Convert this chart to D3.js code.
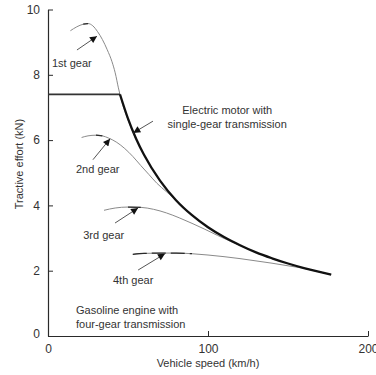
<!DOCTYPE html>
<html>
<head>
<meta charset="utf-8">
<script src="https://cdn.jsdelivr.net/npm/d3@7"></script>
<style>
  body { margin: 0; background: #fff; }
  svg { display: block; font-family: "Liberation Sans", Arial, sans-serif; }
</style>
</head>
<body>
<svg id="chart" width="376" height="375"></svg>
<script>
// values (speed in km/h, force in kN)
var motorFlatSpeed = [0, 45];
var motorFlatForce = [7.4, 7.4];
var motorSpeed = [45, 50, 55, 60, 70, 80, 90, 100, 110, 120, 130, 140, 150, 160, 177];
var motorForce = [7.4, 6.66, 6.05, 5.55, 4.76, 4.16, 3.7, 3.33, 3.03, 2.78, 2.56, 2.38, 2.22, 2.08, 1.88];

var gear1Speed = [14, 18, 22, 25, 28, 31, 34, 37, 40, 42, 44, 46, 50, 55];
var gear1Force = [9.35, 9.47, 9.55, 9.57, 9.5, 9.32, 9.08, 8.77, 8.4, 8.06, 7.6, 7.2, 6.62, 6.02];
var gear2Speed = [21, 25, 30, 34, 38, 43, 48, 53, 58, 63, 68, 74, 80, 88];
var gear2Force = [6.08, 6.13, 6.15, 6.13, 6.06, 5.93, 5.74, 5.5, 5.22, 4.95, 4.68, 4.42, 4.16, 3.78];
var gear3Speed = [35, 42, 50, 58, 66, 74, 82, 90, 98, 106, 114, 122, 130];
var gear3Force = [3.85, 3.92, 3.95, 3.94, 3.88, 3.77, 3.62, 3.45, 3.27, 3.08, 2.9, 2.73, 2.56];
var gear4Speed = [53, 60, 70, 80, 90, 100, 110, 120, 130, 140, 150, 160, 168, 177];
var gear4Force = [2.5, 2.53, 2.54, 2.54, 2.52, 2.48, 2.43, 2.37, 2.3, 2.23, 2.15, 2.07, 1.98, 1.88];

// darker stretches drawn over the gear curves near their peaks
var highlightFrom = [21, 28, 47, 53];
var highlightTo = [26, 37, 58, 90];

var xTicks = [0, 100, 200];
var yTicks = [0, 2, 4, 6, 8, 10];

var svg = d3.select("#chart");
var margin = {left: 48, right: 8, top: 9.5, bottom: 39};
var width = 376 - margin.left - margin.right;
var height = 375 - margin.top - margin.bottom;

var x = d3.scaleLinear().domain([0, 200]).range([margin.left, margin.left + width]);
var y = d3.scaleLinear().domain([0, 10]).range([margin.top + height, margin.top]);

var ink = "#2a2a2a";

// axes, ticks pointing inward
var xAxis = svg.append("g")
  .attr("transform", "translate(0," + y(0) + ")")
  .call(d3.axisBottom(x).tickValues(xTicks).tickSizeInner(-5).tickSizeOuter(0).tickPadding(8));
var yAxis = svg.append("g")
  .attr("transform", "translate(" + x(0) + ",0)")
  .call(d3.axisLeft(y).tickValues(yTicks).tickSizeInner(-5).tickSizeOuter(0).tickPadding(8));

[xAxis, yAxis].forEach(function(a){
  a.select(".domain").attr("stroke", ink).attr("stroke-width", 1.2);
  a.selectAll(".tick line").attr("stroke", ink).attr("stroke-width", 1);
  a.selectAll(".tick text").attr("fill", "#333").style("font-size", "12px");
});
// the 0 label on the y axis sits next to the corner
yAxis.selectAll(".tick").filter(function(d){ return d === 0; }).select("text").attr("dy", "0.1em");

// axis titles
svg.append("text")
  .attr("x", x(100)).attr("y", 367)
  .attr("text-anchor", "middle")
  .style("font-size", "11px").attr("fill", "#333")
  .text("Vehicle speed (km/h)");
svg.append("text")
  .attr("transform", "translate(23,164) rotate(-90)")
  .attr("text-anchor", "middle")
  .style("font-size", "11px").attr("fill", "#333")
  .text("Tractive effort (kN)");

function toPoints(sp, fo){
  return sp.map(function(d, i){ return [d, fo[i]]; });
}
var line = d3.line()
  .x(function(d){ return x(d[0]); })
  .y(function(d){ return y(d[1]); })
  .curve(d3.curveMonotoneX);

// gasoline engine gear curves
var gears = [
  toPoints(gear1Speed, gear1Force),
  toPoints(gear2Speed, gear2Force),
  toPoints(gear3Speed, gear3Force),
  toPoints(gear4Speed, gear4Force)
];
svg.selectAll("path.gear")
  .data(gears)
  .enter()
  .append("path")
  .attr("class", "gear")
  .attr("d", line)
  .attr("fill", "none")
  .attr("stroke", "#8a8a8a")
  .attr("stroke-width", 1);

// darker bits on the flat tops
svg.selectAll("path.peak")
  .data(gears)
  .enter()
  .append("path")
  .attr("class", "peak")
  .attr("d", function(d, i){
    return line(d.filter(function(p){ return p[0] >= highlightFrom[i] && p[0] <= highlightTo[i]; }));
  })
  .attr("fill", "none")
  .attr("stroke", ink)
  .attr("stroke-width", 1.3)
  .attr("stroke-dasharray", function(d, i){ return i === 3 ? "14,5" : null; });

// electric motor
svg.append("path")
  .attr("d", d3.line().x(function(d){ return x(d[0]); }).y(function(d){ return y(d[1]); })(toPoints(motorFlatSpeed, motorFlatForce)))
  .attr("fill", "none")
  .attr("stroke", "#333")
  .attr("stroke-width", 1.6);
svg.append("path")
  .attr("d", line(toPoints(motorSpeed, motorForce)))
  .attr("fill", "none")
  .attr("stroke", "#111")
  .attr("stroke-width", 2.3);

// arrowheads
svg.append("defs").append("marker")
  .attr("id", "head")
  .attr("viewBox", "0 0 10 10")
  .attr("refX", 10).attr("refY", 5)
  .attr("markerWidth", 9).attr("markerHeight", 7)
  .attr("markerUnits", "userSpaceOnUse")
  .attr("orient", "auto")
  .append("path")
  .attr("d", "M0,0L10,5L0,10Z")
  .attr("fill", "#111");

// labels: text anchor point and arrow, all in data units
var notes = [
  {lines: ["1st gear"], v: 2.5, f: 8.36, anchor: "start", a: [18.1, 8.76, 30.6, 9.18]},
  {lines: ["Electric motor with", "single-gear transmission"], v: 112, f: 6.92, anchor: "middle", a: [65.6, 6.58, 53.3, 6.22]},
  {lines: ["2nd gear"], v: 17.5, f: 5.1, anchor: "start", a: [28.1, 5.4, 38.8, 6.04]},
  {lines: ["3rd gear"], v: 22, f: 3.09, anchor: "start", a: [41.9, 3.46, 56.3, 3.92]},
  {lines: ["4th gear"], v: 40.6, f: 1.72, anchor: "start", a: [56.3, 2.02, 73.1, 2.52]},
  {lines: ["Gasoline engine with", "four-gear transmission"], v: 17.5, f: 0.8, anchor: "start", a: null}
];

var noteG = svg.selectAll("g.note")
  .data(notes)
  .enter()
  .append("g")
  .attr("class", "note");

noteG.append("text")
  .attr("x", function(d){ return x(d.v); })
  .attr("y", function(d){ return y(d.f); })
  .attr("text-anchor", function(d){ return d.anchor; })
  .attr("fill", "#333")
  .style("font-size", "11px")
  .each(function(d){
    var t = d3.select(this);
    d.lines.forEach(function(s, i){
      t.append("tspan")
        .attr("x", x(d.v))
        .attr("dy", i === 0 ? "0.35em" : "1.3em")
        .text(s);
    });
  });

noteG.filter(function(d){ return d.a; })
  .append("line")
  .attr("x1", function(d){ return x(d.a[0]); })
  .attr("y1", function(d){ return y(d.a[1]); })
  .attr("x2", function(d){ return x(d.a[2]); })
  .attr("y2", function(d){ return y(d.a[3]); })
  .attr("stroke", "#555")
  .attr("stroke-width", 1)
  .attr("marker-end", "url(#head)");
</script>
</body>
</html>
